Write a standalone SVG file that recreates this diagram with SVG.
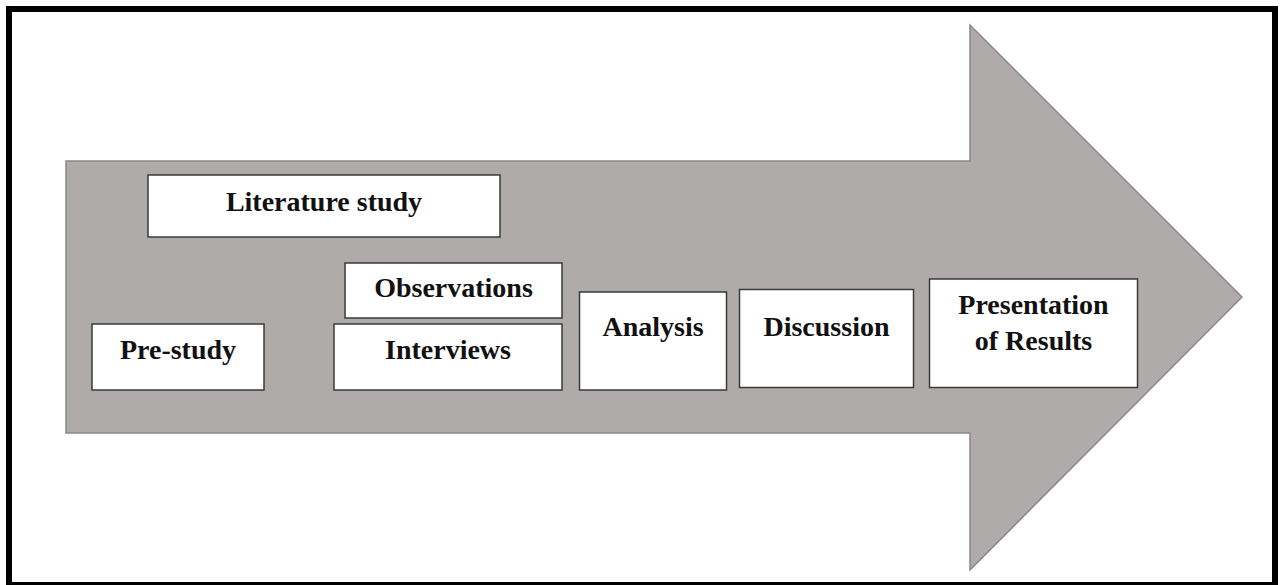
<svg xmlns="http://www.w3.org/2000/svg" width="1282" height="585" viewBox="0 0 1282 585">
  <style>
    .frame { fill: #ffffff; stroke: #000000; stroke-width: 6; }
    .arrow { fill: #afabab; stroke: #898989; stroke-width: 1.5; stroke-linejoin: miter; }
    .box { fill: #ffffff; stroke: #3a3a3a; stroke-width: 1.5; }
    .label { font-family: "Liberation Serif", "Times New Roman", serif; font-weight: bold; font-size: 28px; fill: #111111; text-anchor: middle; }
  </style>

  <!-- outer frame -->
  <rect class="frame" x="9" y="9" width="1266" height="576"/>

  <!-- process arrow -->
  <g id="process-arrow">
    <polygon class="arrow" points="66,161 970,161 970,25 1242,297 970,570 970,433 66,433"/>
  </g>

  <!-- no connectors between the phases; they sit on the arrow -->
  <g id="connectors"></g>

  <g id="literature-study">
    <rect class="box" x="148" y="175" width="352" height="62"/>
    <text class="label" x="324" y="211">Literature study</text>
  </g>

  <g id="observations">
    <rect class="box" x="345" y="263" width="217" height="55"/>
    <text class="label" x="453.5" y="297">Observations</text>
  </g>

  <g id="pre-study">
    <rect class="box" x="92" y="324" width="172" height="66"/>
    <text class="label" x="178" y="359">Pre-study</text>
  </g>

  <g id="interviews">
    <rect class="box" x="334" y="324" width="228" height="66"/>
    <text class="label" x="448" y="359">Interviews</text>
  </g>

  <g id="analysis">
    <rect class="box" x="579.5" y="292" width="147" height="98"/>
    <text class="label" x="653" y="336">Analysis</text>
  </g>

  <g id="discussion">
    <rect class="box" x="739.5" y="289.5" width="174" height="98"/>
    <text class="label" x="826.5" y="336">Discussion</text>
  </g>

  <g id="presentation-of-results">
    <rect class="box" x="929.5" y="279" width="208" height="108.5"/>
    <text class="label" x="1033.5" y="314">Presentation</text>
    <text class="label" x="1033.5" y="350">of Results</text>
  </g>
</svg>
